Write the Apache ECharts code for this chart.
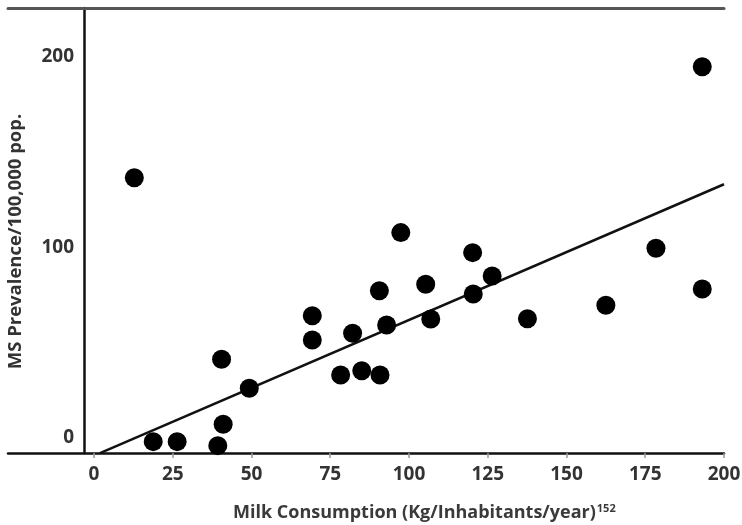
<!DOCTYPE html>
<html>
<head>
<meta charset="utf-8">
<script src="https://cdn.jsdelivr.net/npm/echarts@6/dist/echarts.min.js"></script>
<style>
  html, body { margin: 0; padding: 0; background: #fff; }
  #chart { width: 742px; height: 525px; }
</style>
</head>
<body>
<div id="chart"></div>
<script>
// milk consumption (kg/inhabitant/year) vs MS prevalence per 100,000
const milk = [12.8, 40.5, 49.3, 41.0, 18.8, 26.4, 39.3, 97.4, 120.2, 126.4, 90.6, 105.3, 120.4,
  69.3, 69.3, 82.1, 92.9, 106.9, 78.3, 85.0, 90.8, 193.1, 178.4, 193.1, 162.5, 137.6];
const prevalence = [136.6, 41.3, 26.1, 7.2, -1.9, -1.9, -4.0, 107.8, 97.3, 85.0, 77.3, 80.7, 75.6,
  64.2, 51.4, 55.0, 59.3, 62.5, 33.1, 35.3, 33.1, 194.9, 99.6, 78.2, 69.7, 62.6];
// regression line end points
const fitX = [1.9, 200];
const fitY = [-7.9, 133.2];
const xTicks = [0, 25, 50, 75, 100, 125, 150, 175, 200];
const yTicks = [0, 100, 200];

const points = milk.map((m, i) => [m, prevalence[i]]);
const fitLine = fitX.map((x, i) => [x, fitY[i]]);

const chart = echarts.init(document.getElementById("chart"));
const font = "'Open Sans', 'DejaVu Sans', sans-serif";

chart.setOption({
  backgroundColor: "#fff",
  animation: false,
  title: {
    left: 228,
    top: 498,
    text: "{a|Milk Consumption (Kg/Inhabitants/year)}{s|152}",
    textStyle: {
      rich: {
        a: { fontFamily: font, fontSize: 18, color: "#3a3a3a", fontWeight: "bold" },
        s: { fontFamily: font, fontSize: 11, color: "#3a3a3a", fontWeight: "bold", verticalAlign: "top", padding: [0, 0, 9, 1] }
      }
    }
  },
  grid: { left: 8, right: 18, top: 8, bottom: 72, outerBoundsMode: "none" },
  xAxis: [
    {
      type: "value",
      min: -27.3,
      max: 200,
      axisLine: { onZero: false, lineStyle: { color: "#111", width: 2.5 } },
      axisTick: { show: true, length: 5, customValues: xTicks, lineStyle: { color: "#999", width: 1.5 } },
      axisLabel: { customValues: xTicks, margin: 12, fontFamily: font, fontSize: 19, fontWeight: "bold", color: "#333" },
      splitLine: { show: false }
    },
    {
      // plain top border
      type: "value",
      position: "top",
      min: -27.3,
      max: 200,
      axisLine: { show: true, onZero: false, lineStyle: { color: "#555", width: 3 } },
      axisTick: { show: false },
      axisLabel: { show: false },
      splitLine: { show: false }
    }
  ],
  yAxis: {
    type: "value",
    min: -7.87,
    max: 225.7,
    offset: -76,
    name: "MS Prevalence/100,000 pop.",
    nameLocation: "middle",
    nameGap: 59,
    nameTextStyle: { fontFamily: font, fontSize: 18.5, fontWeight: "bold", color: "#333", padding: [0, 22, 0, 0] },
    axisLine: { show: true, onZero: false, lineStyle: { color: "#111", width: 2.5 } },
    axisTick: { show: false },
    axisLabel: { customValues: yTicks, margin: 10, fontFamily: font, fontSize: 19, fontWeight: "bold", color: "#333" },
    splitLine: { show: false }
  },
  series: [
    {
      name: "fit",
      type: "line",
      data: fitLine,
      showSymbol: false,
      clip: true,
      lineStyle: { color: "#111", width: 2.5 },
      z: 2
    },
    {
      name: "countries",
      type: "scatter",
      data: points,
      symbolSize: 19,
      itemStyle: { color: "#000", opacity: 1 },
      z: 3
    }
  ]
});
</script>
</body>
</html>
